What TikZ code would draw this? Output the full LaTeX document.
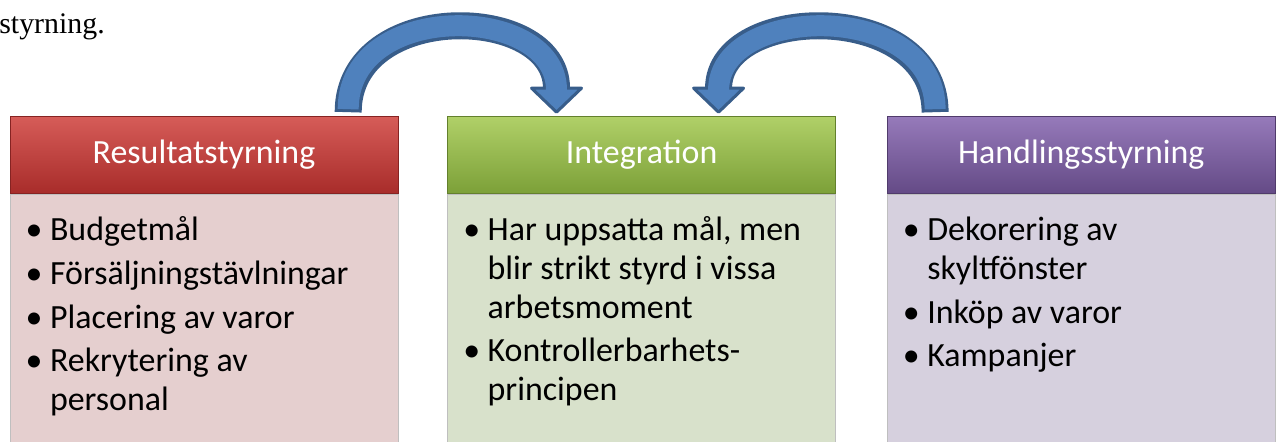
\documentclass[tikz,border=0pt]{standalone}
\usepackage{fontspec}
\setmainfont{Carlito}
\newfontfamily\timesfont{Liberation Serif}
\usepackage{enumitem}
\usetikzlibrary{positioning,calc}

\definecolor{redtop}{RGB}{214,92,88}
\definecolor{redbot}{RGB}{168,44,42}
\definecolor{redbody}{RGB}{229,207,207}
\definecolor{greentop}{RGB}{176,208,104}
\definecolor{greenbot}{RGB}{124,160,56}
\definecolor{greenbody}{RGB}{216,225,203}
\definecolor{purptop}{RGB}{150,122,186}
\definecolor{purpbot}{RGB}{100,74,134}
\definecolor{purpbody}{RGB}{214,208,222}
\definecolor{arrowfill}{RGB}{79,129,189}
\definecolor{arrowline}{RGB}{56,93,138}

\setlist[itemize]{label=\textbullet, leftmargin=0.64cm, labelsep=0.15cm,
  itemsep=0.1cm, topsep=0pt, partopsep=0pt, parsep=0pt}

\tikzset{
  header/.style={rectangle, minimum width=7.76cm, minimum height=1.54cm,
    inner sep=0pt, text=white, font=\fontsize{19.3}{23}\selectfont,
    draw=#1bot!80!black, line width=0.4pt, top color=#1top, bottom color=#1bot},
  bodybox/.style={rectangle, minimum width=7.76cm, minimum height=5cm,
    inner sep=0pt, fill=#1body, draw=black!25, line width=0.4pt},
  listtext/.style={anchor=north west, inner sep=0pt, text width=7.2cm,
    align=flush left, font=\fontsize{19.3}{22}\selectfont},
  archpath/.style={out=90, in=90, out distance=2.26cm, in distance=1.7cm},
}

% curved block arrow: dark rim, head, then the lighter shaft on top
\newcommand{\bendarrow}[2]{%
  \draw[arrowline, line width=0.54cm] (#1) to[archpath] (#2);
  \filldraw[fill=arrowfill, draw=arrowline, line width=0.06cm, line join=round]
    ($(#2)+(-25,0)$) -- ($(#2)+(25,0)$) -- ($(#2)+(0,24)$) -- cycle;
  \draw[arrowfill, line width=0.42cm, shorten <=0.06cm, shorten >=-0.04cm]
    (#1) to[archpath] (#2);
}

\begin{document}
\begin{tikzpicture}[x=0.02cm, y=-0.02cm]
  \useasboundingbox (0,0) rectangle (1280,441);

  % end of the sentence above
  \node[anchor=base west, inner sep=0pt, font=\timesfont\fontsize{17}{20}\selectfont]
    (prevline) at (-1,33) {styrning.};

  % column headers
  \node[header=red] (res) at (204,155) {\raisebox{-2.5pt}{Resultatstyrning}};
  \node[header=green, right=0.98cm of res] (intg) {\raisebox{-2.5pt}{Integration}};
  \node[header=purp, right=1.02cm of intg] (hand) {\raisebox{-2.5pt}{Handlingsstyrning}};

  % arrows towards the middle column
  \coordinate (t1) at ($(res.north west)!0.871!(res.north east)+(0,-4)$);
  \coordinate (h1) at ($(intg.north west)!0.281!(intg.north east)+(0,-28)$);
  \coordinate (t2) at ($(hand.north west)!0.124!(hand.north east)+(0,-4)$);
  \coordinate (h2) at ($(intg.north west)!0.698!(intg.north east)+(0,-28)$);
  \bendarrow{t1}{h1}
  \bendarrow{t2}{h2}

  % body panels
  \node[bodybox=red, below=0pt of res] (resbody) {};
  \node[bodybox=green, below=0pt of intg] (intgbody) {};
  \node[bodybox=purp, below=0pt of hand] (handbody) {};

  % bullet lists
  \node[listtext] (reslist) at ($(resbody.north west)+(8,8)$) {%
    \begin{itemize}
      \item Budgetmål
      \item Försäljningstävlningar
      \item Placering av varor
      \item Rekrytering av\newline personal
    \end{itemize}};
  \node[listtext] (intglist) at ($(intgbody.north west)+(8,8)$) {%
    \begin{itemize}
      \item Har uppsatta mål, men\newline blir strikt styrd i vissa\newline arbetsmoment
      \item Kontrollerbarhets-\newline principen
    \end{itemize}};
  \node[listtext] (handlist) at ($(handbody.north west)+(8,8)$) {%
    \begin{itemize}
      \item Dekorering av\newline skyltfönster
      \item Inköp av varor
      \item Kampanjer
    \end{itemize}};
\end{tikzpicture}
\end{document}
